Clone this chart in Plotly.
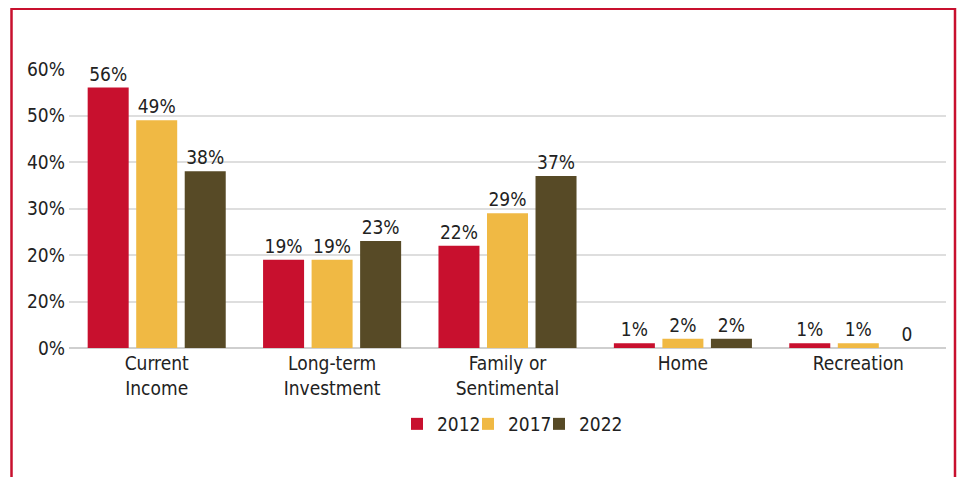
import plotly.graph_objects as go

categories = ["Current<br>Income", "Long-term<br>Investment", "Family or<br>Sentimental", "Home", "Recreation"]
years = ["2012", "2017", "2022"]
values_2012 = [56, 19, 22, 1, 1]
values_2017 = [49, 19, 29, 2, 1]
values_2022 = [38, 23, 37, 2, 0]
colors = ["#c8102e", "#f0b944", "#574a26"]
tick_vals = [0, 10, 20, 30, 40, 50, 60]
tick_text = ["0%", "20%", "20%", "30%", "40%", "50%", "60%"]

FONT = "DejaVu Sans Condensed, Liberation Sans Narrow, Arial Narrow, sans-serif"

# page has an 8px body margin; figure is sized to fit the 966x493 window
OFF = 8
W, H = 966 - OFF, 493 - 2 * OFF - 8
L, T = 69 - OFF, 69 - OFF
R = W - (946 - OFF)
B = H - (348 - OFF)
pw, ph = W - L - R, H - T - B

legend_names = ["legend", "legend2", "legend3"]
legend_text_x = [437, 508, 579]  # page x where each legend label starts

fig = go.Figure()
for yr, vals, col, lg in zip(years, [values_2012, values_2017, values_2022], colors, legend_names):
    fig.add_trace(go.Bar(
        x=categories, y=vals, name=yr, marker_color=col, marker_line_width=0,
        text=[f"{v}%" if v else "0" for v in vals],
        textposition="outside", cliponaxis=False, constraintext="none",
        textfont=dict(family=FONT, size=19, color="#222"),
        legend=lg,
    ))

legend_common = dict(orientation="h", xanchor="left", y=(348 - 424) / ph, yanchor="middle",
                     font=dict(size=19), itemwidth=30, bgcolor="rgba(0,0,0,0)")
legends = {lg: dict(legend_common, x=(tx - 40 - 69) / pw) for lg, tx in zip(legend_names, legend_text_x)}

fig.update_layout(
    width=W, height=H,
    margin=dict(l=L, r=R, t=T, b=B, autoexpand=False),
    paper_bgcolor="white", plot_bgcolor="white",
    barmode="group", bargap=0.17, bargroupgap=0.155,
    font=dict(family=FONT, size=19, color="#222"),
    showlegend=True,
    xaxis=dict(showgrid=False, showline=False, ticks="", tickfont=dict(size=19), automargin=False,
               ticklabelstandoff=2),
    yaxis=dict(range=[0, 60], tickvals=tick_vals, ticktext=tick_text, showgrid=True,
               gridcolor="#dedede", gridwidth=1.5, zeroline=True, zerolinecolor="#cfcfcf",
               zerolinewidth=1.5, showline=False, ticks="", tickfont=dict(size=19), automargin=False,
               ticklabelstandoff=3),
    **legends,
)

fig.add_shape(type="rect", xref="paper", yref="paper",
              x0=(11.5 - 69) / pw, x1=(955 - 69) / pw,
              y0=(348 - 520) / ph, y1=(348 - 8.7) / ph,
              line=dict(color="#c8102e", width=2.5), fillcolor="rgba(0,0,0,0)", layer="above")

fig.write_html("out.html")
